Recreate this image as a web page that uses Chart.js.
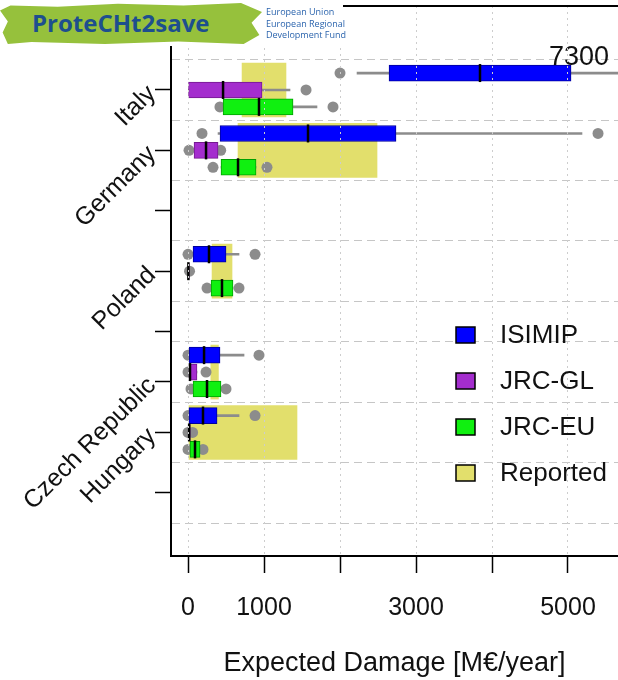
<!DOCTYPE html>
<html>
<head>
<meta charset="utf-8">
<title>Expected Damage</title>
<script src="https://cdn.jsdelivr.net/npm/chart.js@4.4.0/dist/chart.umd.min.js"></script>
<style>
  html, body { margin: 0; padding: 0; background: #fff; overflow: hidden; }
  #wrap { position: relative; width: 618px; height: 680px; overflow: hidden; }
  #damageChart { display: block; }
  #brand { position: absolute; left: 0; top: 0; width: 343px; height: 46px; background: #fff; z-index: 2; }
  #logo {
    position: absolute; left: 0; top: 3px; width: 262px; height: 41px;
    background: #96c13c;
    clip-path: polygon(0% 18%, 4% 6%, 22% 9%, 45% 2%, 70% 6%, 92% 0%, 100% 22%, 96% 48%, 99% 78%, 93% 100%, 68% 94%, 40% 100%, 12% 95%, 3% 100%, 1% 72%, 3% 45%);
    font: bold 24px "Open Sans", "Liberation Sans", Arial, sans-serif;
    color: #1d4f8e; line-height: 40px; padding-left: 32px; box-sizing: border-box;
    white-space: nowrap;
  }
  #eu {
    position: absolute; left: 266px; top: 6px; white-space: nowrap;
    font: 9px "Open Sans", "Liberation Sans", Arial, sans-serif;
    color: #2b64ad; line-height: 11.5px;
  }
</style>
</head>
<body>
<div id="wrap">
  <div id="brand">
    <div id="logo">ProteCHt2save</div>
    <div id="eu">European Union<br>European Regional<br>Development Fund</div>
  </div>
  <canvas id="damageChart" width="618" height="680"></canvas>
</div>
<script>
// countries, top to bottom
const countries = ['Italy', 'Germany', 'Poland', 'Czech Republic', 'Hungary'];
const methods = ['ISIMIP', 'JRC-GL', 'JRC-EU'];

// box stats per country: [low whisker, Q1, median, Q3, high whisker]
const isimip = [
  [2224, 2645, 3842, 5040, 7300],
  [395, 421, 1579, 2737, 5184],
  [66, 66, 276, 500, 671],
  [15, 15, 211, 421, 737],
  [13, 13, 197, 382, 671]
];
const isimipOut = [[2000], [184, 5395], [0, 882], [0, 934], [0, 882]];

const jrcGl = [
  [0, 0, 461, 974, 1342],
  [79, 79, 237, 395, 395],
  [0, 0, 5, 15, 15],
  [13, 13, 26, 118, 118],
  [0, 0, 15, 30, 30]
];
const jrcGlOut = [[1553], [13, 430], [20], [0, 237], [0, 60]];

const jrcEu = [
  [461, 461, 934, 1382, 1697],
  [434, 434, 658, 895, 895],
  [303, 303, 447, 592, 592],
  [66, 66, 250, 434, 434],
  [26, 26, 92, 158, 158]
];
const jrcEuOut = [[420, 1908], [329, 1039], [250, 671], [39, 500], [0, 197]];

// reported damage range (min, max)
const reported = [[711, 1289], [658, 2487], [316, 579], [300, 400], [13, 1434]];

const xTicks = [0, 1000, 2000, 3000, 4000, 5000];
const xLabelled = [0, 1000, 3000, 5000];
const xAxisTitle = 'Expected Damage [M\u20AC/year]';

// layout of the rows on the y axis
const rowPos = [0, 1, 3, 4.67, 5.67];
const subOffset = [-0.28, 0, 0.28];
const yMajor = [0, 1, 2, 3, 4, 4.83, 5.67, 6.67];
const yMajorLabels = ['Italy', 'Germany', '', 'Poland', '', 'Czech Republic', 'Hungary', ''];
const yMinor = [-0.5, 0.5, 1.5, 2.5, 3.5, 4.17, 5.17, 6.17, 7.17];

const FONT = '"Liberation Sans", Arial, Helvetica, sans-serif';
Chart.defaults.font.family = FONT;
Chart.defaults.color = '#111';

const series = [
  { name: methods[0], stats: isimip, out: isimipOut, fill: '#0000ff', edge: '#00009a' },
  { name: methods[1], stats: jrcGl, out: jrcGlOut, fill: '#a42dce', edge: '#74198f' },
  { name: methods[2], stats: jrcEu, out: jrcEuOut, fill: '#10f010', edge: '#00a000' }
];
const reportedColor = '#e2df6c';

const yTicks = yMajor.map((v, i) => ({ value: v, major: true, label: yMajorLabels[i] }))
  .concat(yMinor.map(v => ({ value: v, major: false, label: '' })))
  .sort((a, b) => a.value - b.value);

const datasets = [];
datasets.push({
  type: 'bar',
  label: 'Reported',
  order: 50,
  data: reported.map((r, i) => ({ x: r, y: rowPos[i] })),
  backgroundColor: reportedColor,
  borderWidth: 0,
  barThickness: 54,
  grouped: false
});

series.forEach((s, k) => {
  const rowY = i => rowPos[i] + subOffset[k];
  // whiskers
  datasets.push({
    type: 'bar',
    label: s.name + ' range',
    order: 40,
    data: s.stats.map((st, i) => ({ x: [st[0], st[4]], y: rowY(i) })),
    backgroundColor: '#8c8c8c',
    borderWidth: 0,
    barThickness: 2,
    grouped: false
  });
  // outliers
  datasets.push({
    type: 'scatter',
    label: s.name + ' outliers',
    order: 30,
    data: s.out.flatMap((vals, i) => vals.map(v => ({ x: v, y: rowY(i) }))),
    pointRadius: 5.5,
    pointBackgroundColor: '#8c8c8c',
    pointBorderWidth: 0
  });
  // boxes
  datasets.push({
    type: 'bar',
    label: s.name,
    order: 20,
    data: s.stats.map((st, i) => ({ x: [st[1], st[3]], y: rowY(i) })),
    backgroundColor: s.fill,
    borderColor: s.edge,
    borderWidth: 1,
    borderSkipped: false,
    barThickness: 16,
    grouped: false
  });
  // medians
  datasets.push({
    type: 'scatter',
    label: s.name + ' median',
    order: 10,
    data: s.stats.map((st, i) => ({ x: st[2], y: rowY(i) })),
    pointStyle: 'line',
    pointRotation: 90,
    pointRadius: 9,
    pointBorderWidth: 2.5,
    pointBorderColor: '#000'
  });
});

// top edge of the plot frame
const topFrame = {
  id: 'topFrame',
  afterDraw(chart) {
    const { ctx, chartArea } = chart;
    ctx.save();
    ctx.fillStyle = '#000';
    ctx.fillRect(chartArea.left, Math.round(chartArea.top) - 1, chartArea.right - chartArea.left, 2);
    ctx.restore();
  }
};

// label at the clipped top of the Italy ISIMIP whisker
const clippedLabel = {
  id: 'clippedLabel',
  afterDatasetsDraw(chart) {
    const { ctx, chartArea, scales } = chart;
    ctx.save();
    ctx.font = '27px ' + FONT;
    ctx.fillStyle = '#111';
    ctx.textAlign = 'right';
    ctx.textBaseline = 'alphabetic';
    const y = scales.y.getPixelForValue(rowPos[0] + subOffset[0]);
    ctx.fillText(String(isimip[0][4]), chartArea.right - 9, y - 8);
    ctx.restore();
  }
};

const boxLegend = {
  id: 'boxLegend',
  afterDraw(chart) {
    const { ctx, chartArea } = chart;
    const items = series.map(s => ({ name: s.name, fill: s.fill }))
      .concat([{ name: 'Reported', fill: reportedColor }]);
    const left = chartArea.left + 285;
    const top = chartArea.top + 329;
    ctx.save();
    ctx.font = '26px ' + FONT;
    ctx.textBaseline = 'middle';
    items.forEach((it, i) => {
      const cy = top + i * 46;
      ctx.fillStyle = it.fill;
      ctx.fillRect(left, cy - 8, 19, 16);
      ctx.strokeStyle = '#000';
      ctx.lineWidth = 1.5;
      ctx.strokeRect(left, cy - 8, 19, 16);
      ctx.fillStyle = '#111';
      ctx.fillText(it.name, left + 44, cy + 1);
    });
    ctx.restore();
  }
};

new Chart(document.getElementById('damageChart'), {
  type: 'bar',
  data: { datasets: datasets },
  options: {
    indexAxis: 'y',
    responsive: false,
    animation: false,
    events: [],
    layout: { autoPadding: false, padding: { top: 6, right: 0, bottom: 0, left: 0 } },
    plugins: { legend: { display: false }, tooltip: { enabled: false } },
    scales: {
      x: {
        type: 'linear',
        position: 'bottom',
        offset: false,
        min: -224,
        max: 5658,
        afterBuildTicks: s => { s.ticks = xTicks.map(v => ({ value: v })); },
        afterFit: s => { s.height = 124; s.paddingLeft = 0; s.paddingRight = 0; },
        ticks: {
          autoSkip: false,
          maxRotation: 0,
          minRotation: 0,
          padding: 20,
          color: '#111',
          font: { size: 25 },
          callback: v => xLabelled.includes(v) ? String(v) : ''
        },
        grid: {
          offset: false,
          color: '#cdcdcd',
          lineWidth: 1,
          z: 1,
          tickColor: '#000',
          tickLength: 17,
          tickWidth: 1.5,
          tickBorderDash: []
        },
        // border drawn in the same layer as the grid, after it
        border: { color: '#000', width: 2, dash: [2, 4], z: 1 },
        title: {
          display: true,
          text: xAxisTitle,
          color: '#111',
          font: { size: 27 },
          padding: { top: 0, bottom: 0 }
        }
      },
      y: {
        type: 'linear',
        reverse: true,
        offset: false,
        min: -1.39,
        max: 7.715,
        afterBuildTicks: s => { s.ticks = yTicks.map(t => ({ value: t.value })); },
        afterFit: s => { s.width = 171; s.paddingTop = 0; s.paddingBottom = 0; },
        ticks: {
          autoSkip: false,
          minRotation: 45,
          maxRotation: 45,
          padding: 3,
          color: '#111',
          font: { size: 25 },
          callback: (v, i) => yTicks[i] ? yTicks[i].label : ''
        },
        grid: {
          offset: false,
          color: c => (yTicks[c.index] && yTicks[c.index].major) ? 'rgba(0,0,0,0)' : '#c6c6c6',
          tickColor: c => (yTicks[c.index] && yTicks[c.index].major) ? '#000' : 'rgba(0,0,0,0)',
          lineWidth: 1,
          tickLength: 16,
          tickWidth: 1.5,
          tickBorderDash: []
        },
        border: { color: '#000', width: 2, dash: [8, 5] }
      }
    }
  },
  plugins: [topFrame, clippedLabel, boxLegend]
});
</script>
</body>
</html>
